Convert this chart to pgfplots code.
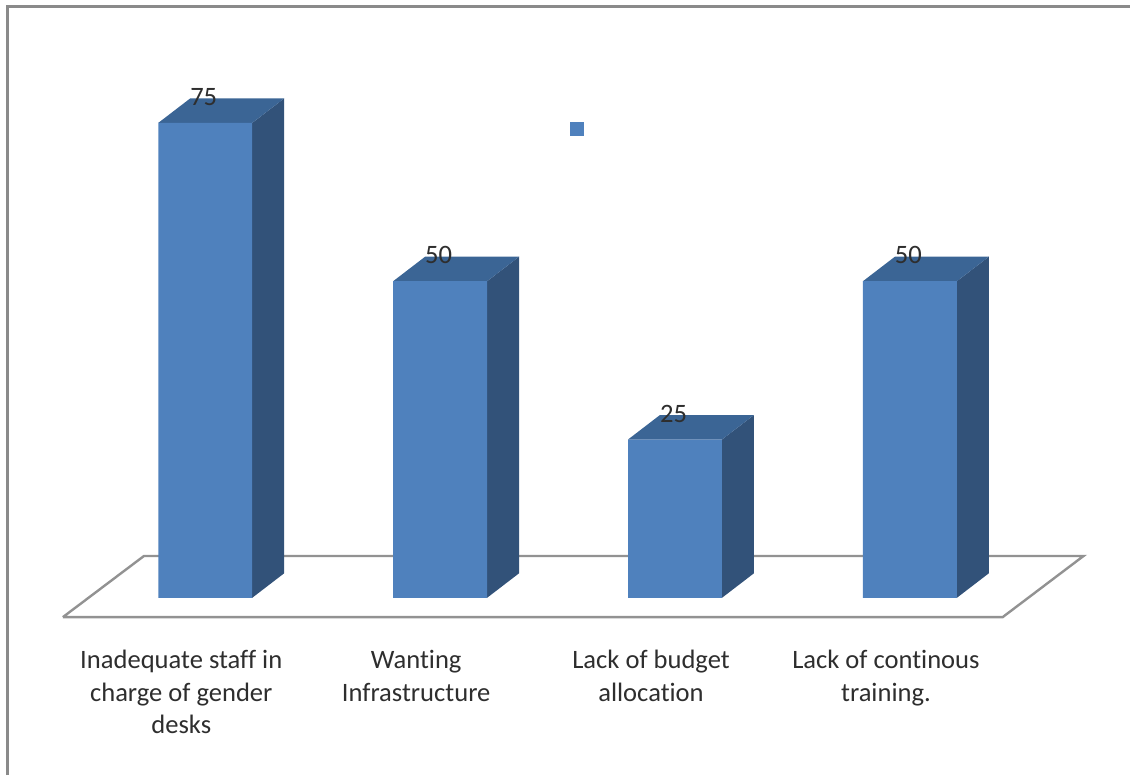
\documentclass[border=0pt]{standalone}
\usepackage{pgfplots}
\pgfplotsset{compat=1.18}
\usepackage{pgfplotstable}
\usepackage{fontspec}
\setmainfont{Carlito}[Ligatures=NoCommon]
\definecolor{barfront}{HTML}{4F81BD}
\definecolor{barside}{HTML}{325279}
\definecolor{bartop}{HTML}{3B6595}
\definecolor{floorline}{HTML}{929292}
\definecolor{frameline}{HTML}{8A8A8A}
\definecolor{labeltext}{HTML}{2E2E2E}

\pgfplotstableread{
pos value
0   75
1   50
2   25
3   50
}\barvalues

\begin{document}
\begin{tikzpicture}
\begin{axis}[
  scale only axis,
  width=1131pt, height=776pt,
  xmin=-0.8737, xmax=3.9349,
  ymin=-28.0, ymax=94.4,
  clip=false,
  axis line style={draw=none},
  ytick=\empty,
  xtick={0,1,2,3},
  xticklabels={{Inadequate staff in\\charge of gender\\desks},{Wanting\\Infrastructure},{Lack of budget\\allocation},{Lack of continous\\training.}},
  major tick length=0pt,
  xticklabel style={font=\fontsize{26.6}{32.5}\selectfont, align=center, text=labeltext,
    xshift=-24pt, yshift=128.3pt},
  legend style={draw=none, fill=none, at={(rel axis cs:0.5115,0.8335)}, anchor=center,
    inner sep=0pt, outer sep=0pt, nodes={inner sep=0pt}},
  legend image code/.code={\fill[barfront] (0pt,-7pt) rectangle (14pt,7pt);},
]
% outer chart frame
\addplot[frameline, line width=3pt, forget plot] coordinates {(-0.8397,-28.0) (-0.8397,93.45) (3.9349,93.45)};
% floor of the chart
\addplot[floorline, line width=2.4pt, forget plot] coordinates {
  (-0.606, -3.05) (-0.261, 6.6) (3.739, 6.6) (3.395, -3.05) (-0.606, -3.05)};
% side faces
\addplot[barside, fill=barside, draw=none, forget plot] coordinates {(0.2,0) (0.336,3.87) (0.336,78.87) (0.2,75) (0.2,0)};
\addplot[barside, fill=barside, draw=none, forget plot] coordinates {(1.2,0) (1.336,3.87) (1.336,53.87) (1.2,50) (1.2,0)};
\addplot[barside, fill=barside, draw=none, forget plot] coordinates {(2.2,0) (2.336,3.87) (2.336,28.87) (2.2,25) (2.2,0)};
\addplot[barside, fill=barside, draw=none, forget plot] coordinates {(3.2,0) (3.336,3.87) (3.336,53.87) (3.2,50) (3.2,0)};
% top faces
\addplot[bartop, fill=bartop, draw=none, forget plot] coordinates {(-0.2,75) (-0.064,78.87) (0.336,78.87) (0.2,75) (-0.2,75)};
\addplot[bartop, fill=bartop, draw=none, forget plot] coordinates {(0.8,50) (0.936,53.87) (1.336,53.87) (1.2,50) (0.8,50)};
\addplot[bartop, fill=bartop, draw=none, forget plot] coordinates {(1.8,25) (1.936,28.87) (2.336,28.87) (2.2,25) (1.8,25)};
\addplot[bartop, fill=bartop, draw=none, forget plot] coordinates {(2.8,50) (2.936,53.87) (3.336,53.87) (3.2,50) (2.8,50)};
% front faces with their value labels
\addplot[ybar, bar width=94pt, bar shift=0pt, fill=barfront, draw=none,
  nodes near coords,
  every node near coord/.style={font=\fontsize{26.6}{30}\selectfont, text=labeltext,
     anchor=base, inner sep=0pt, yshift=17.5pt, xshift=-1.5pt},
  /pgf/number format/assume math mode=true,
  /pgf/number format/fixed, /pgf/number format/precision=0]
  table[x=pos, y=value] {\barvalues};
\addlegendentry{}
\end{axis}
\end{tikzpicture}
\end{document}
